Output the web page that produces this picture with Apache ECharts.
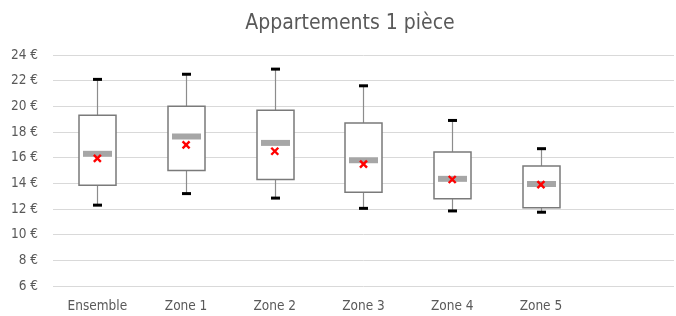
<!DOCTYPE html>
<html>
<head>
  <meta charset="utf-8">
  <title>Appartements 1 pièce</title>
  <script src="https://cdn.jsdelivr.net/npm/echarts@6/dist/echarts.min.js"></script>
  <style>
    html, body { margin: 0; padding: 0; background: #fff; }
    #chart { width: 676px; height: 316px; }
  </style>
</head>
<body>
<div id="chart"></div>
<script>
// categories (the last one is empty, as in the source chart)
var categories = ['Ensemble', 'Zone 1', 'Zone 2', 'Zone 3', 'Zone 4', 'Zone 5', ''];
// box values, in € / m²
var mins    = [12.3, 13.2, 12.85, 12.05, 11.85, 11.75];
var q1s     = [13.85, 15.0, 14.3, 13.3, 12.8, 12.1];
var medians = [16.3, 17.65, 17.15, 15.8, 14.35, 13.95];
var q3s     = [19.3, 20.0, 19.7, 18.7, 16.45, 15.35];
var maxs    = [22.1, 22.5, 22.9, 21.6, 18.9, 16.7];
var means   = [15.95, 17.0, 16.5, 15.5, 14.3, 13.9];

var font = '"Liberation Sans Narrow", "DejaVu Sans Condensed", Roboto, sans-serif';

var rows = [];
for (var i = 0; i < mins.length; i++) {
  rows.push([i, mins[i], q1s[i], medians[i], q3s[i], maxs[i], means[i]]);
}

function renderBox(params, api) {
  var i = api.value(0);
  var band = api.size([1, 0])[0];
  var pMin = api.coord([i, api.value(1)]);
  var pQ1 = api.coord([i, api.value(2)]);
  var pMed = api.coord([i, api.value(3)]);
  var pQ3 = api.coord([i, api.value(4)]);
  var pMax = api.coord([i, api.value(5)]);
  var pMean = api.coord([i, api.value(6)]);
  var x = Math.round(pMed[0]) + 0.5;
  var bw = Math.round(band * 0.42);
  var mw = Math.round(band * 0.33);
  var cw = 9, xs = 3.5;
  var grey = { stroke: '#8c8c8c', lineWidth: 1.2 };
  return {
    type: 'group',
    children: [
      { type: 'line', shape: { x1: x, y1: pMax[1], x2: x, y2: pQ3[1] }, style: grey },
      { type: 'line', shape: { x1: x, y1: pQ1[1], x2: x, y2: pMin[1] }, style: grey },
      { type: 'rect', shape: { x: x - bw / 2, y: pQ3[1], width: bw, height: pQ1[1] - pQ3[1] },
        style: { fill: '#fff', stroke: '#7a7a7a', lineWidth: 1.5 } },
      { type: 'rect', shape: { x: x - mw / 2, y: pMed[1] - 3, width: mw, height: 6 },
        style: { fill: '#a6a6a6' } },
      { type: 'rect', shape: { x: x - cw / 2, y: pMax[1] - 1.5, width: cw, height: 3 },
        style: { fill: '#000' } },
      { type: 'rect', shape: { x: x - cw / 2, y: pMin[1] - 1.5, width: cw, height: 3 },
        style: { fill: '#000' } },
      { type: 'line', shape: { x1: pMean[0] - xs, y1: pMean[1] - xs, x2: pMean[0] + xs, y2: pMean[1] + xs },
        style: { stroke: '#ff0000', lineWidth: 2.4 } },
      { type: 'line', shape: { x1: pMean[0] - xs, y1: pMean[1] + xs, x2: pMean[0] + xs, y2: pMean[1] - xs },
        style: { stroke: '#ff0000', lineWidth: 2.4 } }
    ]
  };
}

var myChart = echarts.init(document.getElementById('chart'), null, { renderer: 'canvas' });
var option = {
  animation: false,
  title: {
    text: 'Appartements 1 pièce',
    left: 345,
    textAlign: 'center',
    top: 8,
    textStyle: { fontFamily: font, fontSize: 21, fontWeight: 'normal', color: '#595959' }
  },
  grid: { left: 53, right: 2, top: 55, bottom: 30 },
  xAxis: {
    type: 'category',
    data: categories,
    axisLine: { show: false },
    axisTick: { show: false },
    axisLabel: { fontFamily: font, fontSize: 13.5, color: '#595959', margin: 13 },
    splitLine: { show: false }
  },
  yAxis: {
    type: 'value',
    min: 6,
    max: 24,
    interval: 2,
    axisLine: { show: false },
    axisTick: { show: false },
    axisLabel: { formatter: '{value} €', fontFamily: font, fontSize: 13.5, color: '#595959', margin: 15 },
    splitLine: { lineStyle: { color: '#d9d9d9', width: 1 } }
  },
  series: [{
    type: 'custom',
    renderItem: renderBox,
    encode: { x: 0, y: [1, 2, 3, 4, 5, 6] },
    data: rows
  }]
};
myChart.setOption(option);
</script>
</body>
</html>
